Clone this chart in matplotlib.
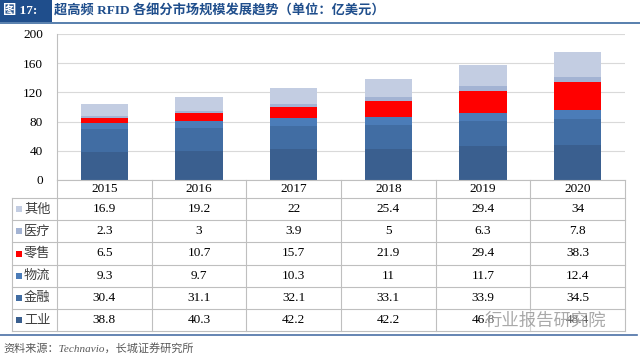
import matplotlib
matplotlib.use("Agg")
import matplotlib.pyplot as plt
from matplotlib.patches import Rectangle
from matplotlib.lines import Line2D

# ── Datos ─────────────────────────────────────────────────────────────────────
years = ["2015", "2016", "2017", "2018", "2019", "2020"]
# orden de apilado: de abajo hacia arriba
gongye = [38.8, 40.3, 42.2, 42.2, 46.8, 48.4]   # 工业
jinrong = [30.4, 31.1, 32.1, 33.1, 33.9, 34.5]  # 金融
wuliu = [9.3, 9.7, 10.3, 11, 11.7, 12.4]        # 物流
lingshou = [6.5, 10.7, 15.7, 21.9, 29.4, 38.3]  # 零售
yiliao = [2.3, 3, 3.9, 5, 6.3, 7.8]             # 医疗
qita = [16.9, 19.2, 22, 25.4, 29.4, 34]         # 其他
series_names = ["工业", "金融", "物流", "零售", "医疗", "其他"]
table_labels = ["其他", "医疗", "零售", "物流", "金融", "工业"]
yticks = [0, 40, 80, 120, 160, 200]

COLORS = {
    "工业": "#3a5f8f",
    "金融": "#416da3",
    "物流": "#4b7cb8",
    "零售": "#ff0000",
    "医疗": "#a3b3d3",
    "其他": "#c3cde2",
}

W, H = 640, 356
SERIF_CJK = ["Liberation Serif", "Noto Sans CJK SC"]
CJK = ["Noto Sans CJK SC", "DejaVu Sans"]
GRID = "#d9d9d9"
TLINE = "#bfbfbf"


def fx(x):
    return x / W


def fy(y):
    return 1 - y / H


fig = plt.figure(figsize=(W / 100, H / 100), dpi=100)

# ── Cabecera ──────────────────────────────────────────────────────────────────
fig.patches.append(Rectangle((0, fy(22)), fx(52), 22 / H, transform=fig.transFigure,
                             facecolor="#1f4e8c", edgecolor="none"))
fig.text(fx(3), fy(11), "图 17:", color="white", fontsize=9.5, fontweight="bold",
         family=SERIF_CJK, va="center", ha="left")
fig.text(fx(54), fy(11), "超高频 RFID 各细分市场规模发展趋势（单位：亿美元）",
         color="#1f4e8c", fontsize=9.5, fontweight="bold", family=SERIF_CJK,
         va="center", ha="left")
fig.lines.append(Line2D([0, 1], [fy(22.5), fy(22.5)], transform=fig.transFigure,
                        color="#3b6aa0", lw=1.2))

# ── Barras apiladas ───────────────────────────────────────────────────────────
x_left, x_right = 57, 625
y_top, y_base = 34, 180
ax = fig.add_axes([fx(x_left), fy(y_base), (x_right - x_left) / W, (y_base - y_top) / H])

data = {"工业": gongye, "金融": jinrong, "物流": wuliu,
        "零售": lingshou, "医疗": yiliao, "其他": qita}
xs = list(range(len(years)))
bottom = [0.0] * len(years)
for name in series_names:
    vals = data[name]
    ax.bar(xs, vals, width=0.5, bottom=bottom, color=COLORS[name], zorder=3)
    bottom = [b + v for b, v in zip(bottom, vals)]

ax.set_xlim(-0.5, len(years) - 0.5)
ax.set_ylim(0, 200)
ax.set_yticks(yticks)
ax.set_yticklabels([str(t) for t in yticks], family="Liberation Serif", fontsize=9.5)
ax.set_xticks([])
ax.tick_params(axis="y", length=0, pad=10)
ax.yaxis.grid(True, color=GRID, lw=0.8, zorder=0)
for s in ["top", "right", "bottom"]:
    ax.spines[s].set_visible(False)
ax.spines["left"].set_color(TLINE)
ax.spines["left"].set_linewidth(0.8)

# ── Tabla de datos ────────────────────────────────────────────────────────────
col_w = (x_right - x_left) / len(years)
header_bottom = 198
row_h = 22.2
n_rows = len(table_labels)
table_bottom = header_bottom + n_rows * row_h
lab_left = 12


def hline(y, x0, x1):
    fig.lines.append(Line2D([fx(x0), fx(x1)], [fy(y), fy(y)], transform=fig.transFigure,
                            color=TLINE, lw=0.8))


def vline(x, y0, y1):
    fig.lines.append(Line2D([fx(x), fx(x)], [fy(y0), fy(y1)], transform=fig.transFigure,
                            color=TLINE, lw=0.8))


hline(y_base, x_left, x_right)
for i in range(n_rows + 1):
    hline(header_bottom + i * row_h, lab_left, x_right)
vline(lab_left, header_bottom, table_bottom)
for k in range(len(years) + 1):
    vline(x_left + k * col_w, y_base, table_bottom)

for k, yr in enumerate(years):
    fig.text(fx(x_left + (k + 0.5) * col_w), fy((y_base + header_bottom) / 2), yr,
             family="Liberation Serif", fontsize=9.5, ha="center", va="center")

for r, name in enumerate(table_labels):
    yc = header_bottom + (r + 0.5) * row_h
    fig.patches.append(Rectangle((fx(16), fy(yc + 3)), 6 / W, 6 / H,
                                 transform=fig.transFigure,
                                 facecolor=COLORS[name], edgecolor="none"))
    fig.text(fx(24), fy(yc), name, family=CJK, fontsize=9.5, color="#404040",
             ha="left", va="center")
    for k in range(len(years)):
        v = data[name][k]
        fig.text(fx(x_left + (k + 0.5) * col_w), fy(yc), f"{v:g}",
                 family="Liberation Serif", fontsize=9.5, ha="center", va="center")

# línea inferior azul y fuente
fig.lines.append(Line2D([0, fx(637)], [fy(335), fy(335)], transform=fig.transFigure,
                        color="#4a6fa5", lw=1.2))
fig.text(fx(3), fy(348), "资料来源：Technavio，长城证券研究所", family=["Liberation Serif", "Noto Sans CJK SC"],
         fontsize=8, style="italic", color="#595959", ha="left", va="center")

# marca de agua
fig.text(fx(485), fy(321), "行业报告研究院", family=CJK, fontsize=12.5, color="#9a9a9a",
         alpha=0.85, ha="left", va="center",
         bbox=dict(facecolor="white", edgecolor="none", alpha=0.35, pad=1))

fig.savefig("out.png", dpi=100)
